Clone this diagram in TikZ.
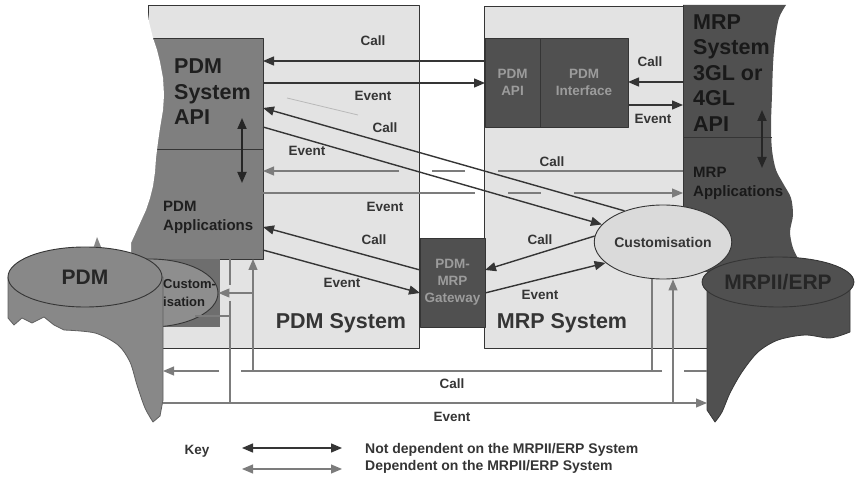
\documentclass[tikz,border=0pt]{standalone}
\usepackage{fontspec}
\setmainfont{Liberation Sans}
\usetikzlibrary{arrows.meta,shapes.geometric}

\definecolor{paper}{HTML}{E3E3E3}
\definecolor{midgrey}{HTML}{7F7F7F}
\definecolor{cylgrey}{HTML}{888888}
\definecolor{custback}{HTML}{6E6E6E}
\definecolor{custmid}{HTML}{8E8E8E}
\definecolor{darkgrey}{HTML}{505050}
\definecolor{inkgrey}{HTML}{353535}
\definecolor{lightink}{HTML}{7C7C7C}
\definecolor{dimtext}{HTML}{9C9C9C}
\definecolor{custgrey}{HTML}{DADADA}

\tikzset{
  sysbox/.style={draw=inkgrey,line width=0.9pt,fill=paper,anchor=north west,inner sep=0pt,outer sep=0pt},
  apibox/.style={draw=inkgrey,line width=0.9pt,fill=midgrey,anchor=north west,inner sep=0pt,outer sep=0pt},
  ifbox/.style={draw=inkgrey,line width=0.9pt,fill=darkgrey,anchor=north west,inner sep=0pt,outer sep=0pt,
    align=center,text=dimtext,font=\bfseries\fontsize{13.5}{17}\selectfont},
  bigtxt/.style={inner sep=0pt,align=left,text=black!88,font=\bfseries\fontsize{21.5}{25.5}\selectfont},
  midtxt/.style={inner sep=0pt,align=left,text=black!88,font=\bfseries\fontsize{15}{19}\selectfont},
  lbl/.style={inner sep=0pt,text=inkgrey,font=\bfseries\fontsize{13.5}{16}\selectfont},
  indep/.style={draw=inkgrey,line width=1.4pt},
  dep/.style={draw=lightink,line width=1.1pt},
  faint/.style={draw=gray!55,line width=0.8pt},
  arr/.style={-{Triangle[length=11pt,width=9pt]}},
  dblarr/.style={{Triangle[length=11pt,width=9pt]}-{Triangle[length=11pt,width=9pt]}},
}

\begin{document}
\begin{tikzpicture}[x=1pt,y=-1pt,line join=round]
\useasboundingbox (0,0) rectangle (855,478);
% system boxes
\node[sysbox,minimum width=271pt,minimum height=343pt] (pdmsys) at (148,5) {};
\node[sysbox,minimum width=230pt,minimum height=342pt] (mrpsys) at (484,6) {};
\node[lbl,font=\bfseries\fontsize{21.5}{24}\selectfont] (pdmsyslbl) at (341,323) {PDM System};
\node[lbl,font=\bfseries\fontsize{21.5}{24}\selectfont] (mrpsyslbl) at (562,323) {MRP System};
% PDM system API and applications
\node[apibox,minimum width=110pt,minimum height=111pt] (sysapi) at (153,38) {};
\node[apibox,minimum width=135pt,minimum height=110pt] (pdmapps) at (128,149) {};
% torn left edge
\fill[white] (0,0) -- (147,0) -- (147,5) -- (149,22) -- (153,38) -- (157,50) -- (160,62) -- (163,78) -- (164,95)
  -- (163,110) -- (160,128) -- (158,142) -- (156,158) -- (155,172) -- (153,186) -- (150,198) -- (146,210)
  -- (141,221) -- (136,232) -- (131,243) -- (131,262) -- (0,262) -- cycle;
\node[bigtxt,anchor=west] (sysapitxt) at (174,92) {PDM\\System\\API};
\node[midtxt,anchor=west] (pdmappstxt) at (163,217) {PDM\\Applications};
\draw[indep,dblarr,line width=1.8pt,draw=black!85] (sysapi.south -| 242,0) ++(0,-31) -- ++(0,65);
% PDM customisation
\fill[custback] (163,259) rectangle (220,327);
\node[ellipse,draw=inkgrey,line width=0.9pt,fill=custmid,minimum width=136pt,minimum height=68pt,inner sep=0pt] (custpdm) at (150,293) {};
% PDM database
\filldraw[draw=cylgrey!70!black,line width=0.8pt,fill=cylgrey] (8,277) -- (8,318) -- (14,325) -- (22,318) -- (32,323) -- (44,317) -- (54,325) -- plot[smooth] coordinates {(64,330) (95,333) (118,345) (130,362) (137,385) (145,408) (153,422)} -- (160,416) -- (163,400) -- (163,277) -- cycle;
\fill[cylgrey] (92,252) -- (97,237) -- (103,252) -- cycle;
\node[ellipse,draw=inkgrey,line width=0.9pt,fill=cylgrey,minimum width=154pt,minimum height=60pt,inner sep=0pt,
  text=black!85,font=\bfseries\fontsize{21}{24}\selectfont] (pdmdb) at (85,277) {PDM};
\node[lbl,text=black!88,align=left,anchor=west,font=\bfseries\fontsize{13}{18}\selectfont] (custpdmtxt) at (163,293) {Custom-\\isation};
% MRP system API and applications
\fill[darkgrey] (683,5) -- (786,5) -- plot[smooth] coordinates {(786,5) (779,18) (775,40) (773,65) (772,95) (771,125) (772,150) (776,170) (784,185) (791,198) (793,215) (790,232) (793,248) (800,262)} -- (760,272) -- (700,272) -- (683,268) -- cycle;
\coordinate (mrpedge) at (683,5);
\draw[inkgrey,line width=0.9pt] (mrpedge) -- ++(0,263);
\draw[inkgrey,line width=0.9pt] (mrpedge |- 0,137) -- (772,137);
\node[bigtxt,anchor=west,text=black!90] (mrpapitxt) at (693,73) {MRP\\System\\3GL or\\4GL\\API};
\node[midtxt,anchor=west,text=black!90] (mrpappstxt) at (693,183) {MRP\\Applications};
\draw[indep,dblarr,line width=1.8pt,draw=black!85] (762,110) -- (762,168);
% interface boxes
\node[ifbox,minimum width=55pt,minimum height=89pt] (pdmapi) at (485,38) {PDM\\API};
\node[ifbox,minimum width=88pt,minimum height=89pt] (pdmif) at (540,38) {PDM\\Interface};
\node[ifbox,minimum width=65pt,minimum height=89pt] (gateway) at (420,238) {PDM-\\MRP\\Gateway};
% MRPII/ERP database
\filldraw[draw=darkgrey!70!black,line width=0.8pt,fill=darkgrey] (707,282) -- (707,410) -- (715,422) -- plot[smooth] coordinates {(715,422) (722,412) (730,393) (742,372) (758,352) (778,340) (805,335) (830,338) (850,332)} -- (850,282) -- cycle;
\node[ellipse,draw=inkgrey,line width=0.9pt,fill=darkgrey,minimum width=144pt,minimum height=50pt,inner sep=0pt,
  text=black!85,font=\bfseries\fontsize{21}{24}\selectfont] (erpdb) at (778,282) {MRPII/ERP};
\node[ellipse,draw=inkgrey,line width=0.9pt,fill=custgrey,minimum width=110pt,minimum height=74pt,inner sep=0pt,
  text=inkgrey,font=\bfseries\fontsize{14}{16}\selectfont] (custmrp) at (663,242) {Customisation};
\coordinate (pdmside) at (163,0);
\coordinate (erpside) at (707,0);
% calls and events
\draw[indep,arr] (pdmapi.west |- 0,61) -- (sysapi.east |- 0,61);
\draw[indep,arr] (sysapi.east |- 0,83) -- (pdmapi.west |- 0,83);
\draw[faint] (287,98) -- (358,115);
\draw[indep,arr] (custmrp.141) -- (sysapi.east |- 0,108);
\draw[indep,arr] (sysapi.east |- 0,127) -- (custmrp.164);
\draw[dep,arr,dash pattern=on 185pt off 33pt on 33pt off 33pt on 600pt] (mrpedge |- 0,171) -- (pdmapps.east |- 0,171);
\draw[dep,arr,dash pattern=on 212pt off 33pt on 33pt off 33pt on 600pt] (pdmapps.east |- 0,193) -- (mrpedge |- 0,193);
\draw[indep,arr] (gateway.west |- 0,270) -- (pdmapps.east |- 0,227);
\draw[indep,arr] (pdmapps.east |- 0,250) -- (gateway.west |- 0,293);
\draw[indep,arr] (custmrp.175) -- (gateway.east |- 0,270);
\draw[indep,arr] (gateway.east |- 0,293) -- (custmrp.200);
\draw[indep,arr] (mrpedge |- 0,82) -- (pdmif.east |- 0,82);
\draw[indep,arr] (pdmif.east |- 0,105) -- (mrpedge |- 0,105);
% bottom call and event
\draw[dep] (custmrp.south -| 652,0) -- (652,371);
\draw[dep,arr,dash pattern=on 23pt off 22pt on 421pt off 22pt on 600pt] (erpside |- 0,371) -- (pdmside |- 0,371);
\draw[dep,arr] (253,371) -- (pdmapps.south -| 253,0);
\draw[dep,arr] (253,293) -- (custpdm.east);
\draw[dep,dash pattern=on 26pt off 16pt on 300pt] (pdmapps.south -| 230,0) -- (230,403);
\draw[dep] (230,316) -- (custpdm.-30 |- 0,316);
\draw[dep,arr] (pdmside |- 0,403) -- (erpside |- 0,403);
\draw[dep,arr] (673,403) -- (custmrp.south -| 673,0);
% labels
\node[lbl] (calltop) at (373,41) {Call};
\node[lbl] (eventtop) at (373,96) {Event};
\node[lbl] (calldiag) at (385,128) {Call};
\node[lbl] (eventdiag) at (307,151) {Event};
\node[lbl] (callapps) at (552,162) {Call};
\node[lbl] (eventapps) at (385,207) {Event};
\node[lbl] (callgw) at (374,240) {Call};
\node[lbl] (eventgw) at (342,283) {Event};
\node[lbl] (callcust) at (540,240) {Call};
\node[lbl] (eventcust) at (540,295) {Event};
\node[lbl] (callif) at (650,62) {Call};
\node[lbl] (eventif) at (653,119) {Event};
\node[lbl] (callbot) at (452,384) {Call};
\node[lbl] (eventbot) at (452,417) {Event};
% key
\node[lbl] (keylbl) at (197,451) {Key};
\coordinate (keya) at (242,448);
\coordinate (keyb) at (342,448);
\coordinate (keyc) at (242,469);
\coordinate (keyd) at (342,469);
\draw[indep,dblarr] (keya) -- (keyb);
\draw[dep,dblarr] (keyc) -- (keyd);
\node[lbl,anchor=west,font=\bfseries\fontsize{14}{16}\selectfont] (keyindep) at (365,450) {Not dependent on the MRPII/ERP System};
\node[lbl,anchor=west,font=\bfseries\fontsize{14}{16}\selectfont] (keydep) at (365,467) {Dependent on the MRPII/ERP System};
\end{tikzpicture}
\end{document}
